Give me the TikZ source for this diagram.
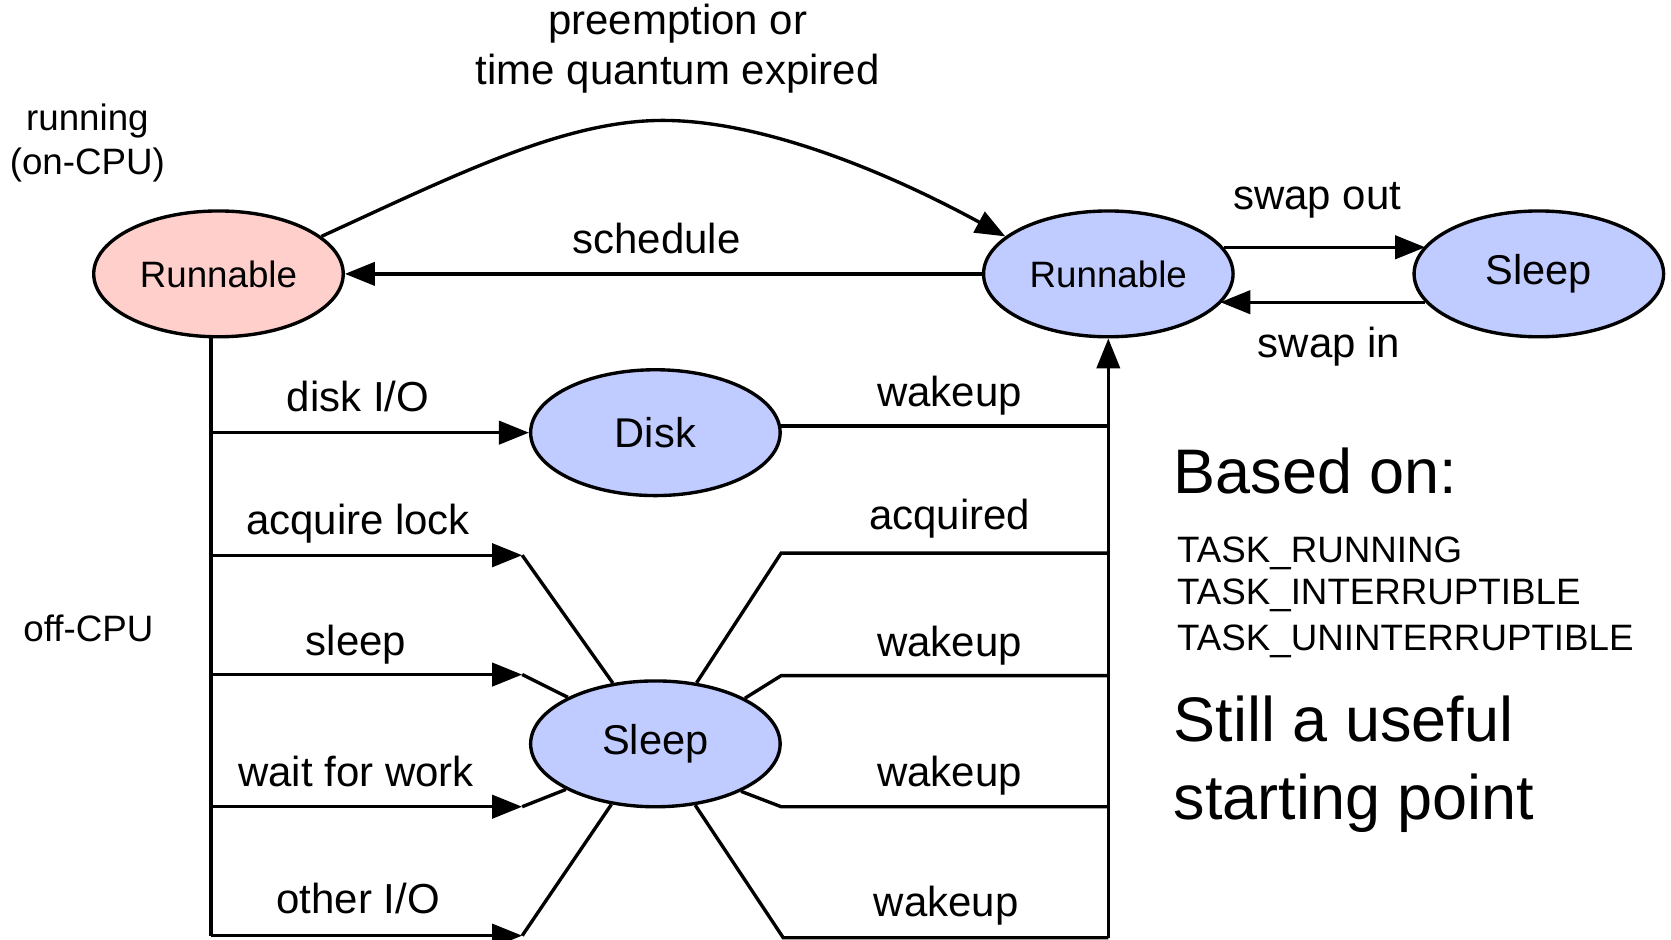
\documentclass[tikz,border=0pt]{standalone}
\usepackage{fontspec}
\setmainfont{Liberation Sans}
\usetikzlibrary{shapes.geometric,arrows.meta}
\definecolor{runpink}{RGB}{255,207,204}
\definecolor{stblue}{RGB}{192,204,255}
\begin{document}
\begin{tikzpicture}[x=0.01cm,y=-0.01cm,
  line width=0.9pt,
  >={Triangle[length=8pt,width=6.2pt]},
  st/.style={ellipse,draw,line width=0.9pt,minimum width=2.34cm,minimum height=1.18cm,inner sep=0pt},
  small/.style={font=\fontsize{9.8}{12}\selectfont},
  mid/.style={font=\fontsize{11.1}{13}\selectfont},
  lbl/.style={font=\fontsize{11.2}{13}\selectfont,anchor=base,inner sep=0pt},
  side/.style={font=\fontsize{9.8}{12}\selectfont,anchor=base,inner sep=0pt},
  note/.style={font=\fontsize{9.8}{11.6}\selectfont,anchor=base west,inner sep=0pt},
  big/.style={font=\fontsize{16.8}{20.7}\selectfont,anchor=base west,inner sep=0pt},
]
\useasboundingbox (0,0) rectangle (1568,882);

% states
\node[st,fill=runpink,small] (rL) at (205,257) {Runnable};
\node[st,fill=stblue,small] (rR) at (1040,257) {Runnable};
\node[st,fill=stblue,mid] (sR) at (1444,257) {Sleep};
\node[st,fill=stblue,mid] (disk) at (615,406) {Disk};
\node[st,fill=stblue,mid] (sl) at (615,698) {Sleep};

% trunk coordinates
\coordinate (lt) at (198,878);
\coordinate (rt) at (1040,880);
\coordinate (pk) at (622,113);
\coordinate (b1) at (198,406);
\coordinate (b2) at (198,521);
\coordinate (b3) at (198,633);
\coordinate (b4) at (198,757);
\coordinate (a2) at (490,521);
\coordinate (a3) at (490,633);
\coordinate (a4) at (490,757);
\coordinate (a5) at (490,878);
\coordinate (c2) at (733,519);
\coordinate (c3) at (733,634);
\coordinate (c4) at (733,757);
\coordinate (c5) at (735,880);

% top transitions
\draw[->] (rR.west) -- (rL.east);
\draw[->] (rL.20) .. controls (430,163) and (530,113) .. (pk) .. controls (714,113) and (830,160) .. (rR.160);
\draw[->] (rR.13.3) -- (rR.13.3 -| sR.166.7);
\draw[->] (sR.194.5) -- (sR.194.5 -| rR.345.5);

% left trunk and branches
\draw (rL.south -| lt) -- (lt);
\draw[->] (b1) -- (disk.west);
\draw[->] (b2) -- (a2);
\draw (a2) -- (sl.125.5);
\draw[->] (b3) -- (a3);
\draw (a3) -- (sl.152.3);
\draw[->] (b4) -- (a4);
\draw (a4) -- (sl.207.1);
\draw[->] (lt) -- (a5);
\draw (a5) -- (sl.234.5);

% right trunk and branches
\draw[->] (rt) -- (rR.south);
\draw (disk.3) -- (disk.3 -| rt);
\draw (sl.56.5) -- (c2) -- (c2 -| rt);
\draw (sl.27.7) -- (c3) -- (c3 -| rt);
\draw (sl.331.8) -- (c4) -- (c4 -| rt);
\draw (sl.303) -- (c5) -- (c5 -| rt);

% labels
\node[lbl] (lpre1) at (636,32) {preemption or};
\node[lbl] (lpre2) at (636,79) {time quantum expired};
\node[lbl] (lsch) at (616,238) {schedule};
\node[lbl] (lso) at (1236,197) {swap out};
\node[lbl] (lsi) at (1247,335) {swap in};
\node[lbl] (ldio) at (336,386) {disk I/O};
\node[lbl] (lacq) at (336,502) {acquire lock};
\node[lbl] (lslp) at (334,615) {sleep};
\node[lbl] (lwfw) at (334,738) {wait for work};
\node[lbl] (loio) at (336,857) {other I/O};
\node[lbl] (lw1) at (891,381) {wakeup};
\node[lbl] (lacd) at (891,497) {acquired};
\node[lbl] (lw2) at (891,616) {wakeup};
\node[lbl] (lw3) at (891,738) {wakeup};
\node[lbl] (lw4) at (888,860) {wakeup};

\node[side] (lrun) at (82,122) {running};
\node[side] (loncpu) at (82,164) {(on-CPU)};
\node[side] (loff) at (83,602) {off-CPU};

\node[big] (based) at (1100,463) {Based on:};
\node[note] (t1) at (1103,528) {TASK\_RUNNING};
\node[note] (t2) at (1103,567) {TASK\_INTERRUPTIBLE};
\node[note] (t3) at (1103,610) {TASK\_UNINTERRUPTIBLE};
\node[big] (still1) at (1100,696) {Still a useful};
\node[big] (still2) at (1100,769) {starting point};
\end{tikzpicture}
\end{document}
